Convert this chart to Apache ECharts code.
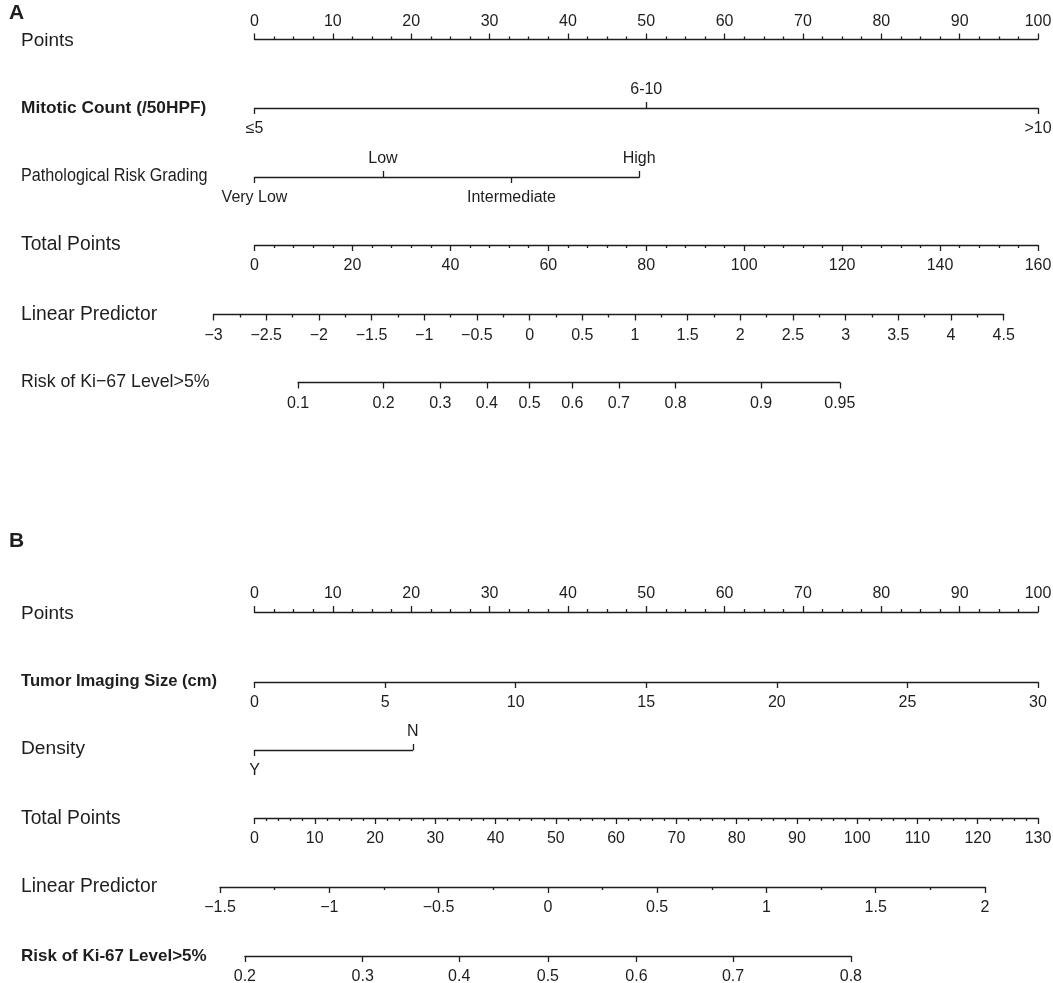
<!DOCTYPE html>
<html lang="en">
<head>
<meta charset="UTF-8">
<title>Nomogram</title>
<script src="https://cdn.jsdelivr.net/npm/echarts@6/dist/echarts.min.js"></script>
<style>
    html, body { margin: 0; padding: 0; background: #fff; }
    #chart { width: 1053px; height: 983px; }
</style>
</head>
<body>
<div id="chart"></div>
<script>
// ---- panel A data ----
var pointsRange = [0, 100];
var pointsStep = 10;
var mitoticLabels = ['≤5', '6-10', '>10'];
var mitoticPoints = [0, 50, 100];
var gradeLabels = ['Very Low', 'Low', 'Intermediate', 'High'];
var gradePoints = [0, 16.4, 32.8, 49.1];
var totalRangeA = [0, 160];
var totalStepA = 20;
var lpRangeA = [-3, 4.5];
var lpStep = 0.5;
var riskTicksA = [0.1, 0.2, 0.3, 0.4, 0.5, 0.6, 0.7, 0.8, 0.9, 0.95];

// ---- panel B data ----
var tumorRange = [0, 30];
var tumorStep = 5;
var densityLabels = ['Y', 'N'];
var densityPoints = [0, 20.2];
var totalRangeB = [0, 130];
var totalStepB = 10;
var lpRangeB = [-1.5, 2];
var riskTicksB = [0.2, 0.3, 0.4, 0.5, 0.6, 0.7, 0.8];

// ---- look ----
var INK = '#1e1e1e';
var LW = 1.3;
var FONT = '"Liberation Sans", Arial, Helvetica, sans-serif';
var X0 = 254.5, X1 = 1038;          // pixel span of 0..100 points

var option = {
    animation: false,
    backgroundColor: '#fff',
    grid: [], xAxis: [], yAxis: [], series: [], graphic: []
};

function logit(p) { return Math.log(p / (1 - p)); }
function minus(v) { return String(v).replace('-', '\u2212'); }
function ptX(p) { return X0 + (p - pointsRange[0]) / (pointsRange[1] - pointsRange[0]) * (X1 - X0); }

function addGrid(left, right, y) {
    var i = option.grid.length;
    option.grid.push({ left: left, width: right - left, top: y, height: 0, outerBoundsMode: 'none' });
    option.yAxis.push({ gridIndex: i, type: 'value', show: false, min: 0, max: 1 });
    return i;
}

function axis(i, pos, min, max) {
    return {
        gridIndex: i, type: 'value', position: pos, min: min, max: max,
        splitLine: { show: false },
        axisLine: { show: true, onZero: false, lineStyle: { color: INK, width: LW } },
        axisTick: { show: true, length: 6, lineStyle: { color: INK, width: LW } },
        axisLabel: {
            show: true, margin: pos === 'top' ? 10 : 13, color: INK, fontSize: 16, fontFamily: FONT, lineHeight: 16,
            showMinLabel: true, showMaxLabel: true, hideOverlap: false,
            alignMinLabel: 'center', alignMaxLabel: 'center'
        }
    };
}

// evenly spaced scale with labels every `step` and optional minor ticks
function regularScale(left, right, y, range, step, minorSplit, pos, fmt) {
    var i = addGrid(left, right, y);
    var ax = axis(i, pos, range[0], range[1]);
    ax.interval = step;
    if (minorSplit) {
        ax.minorTick = { show: true, splitNumber: minorSplit, length: 3, lineStyle: { color: INK, width: LW } };
    }
    if (fmt) ax.axisLabel.formatter = fmt;
    option.xAxis.push(ax);
}

// named positions; labels alternate below / above the line unless allBelow
function pickedScale(left, right, y, values, labels, allBelow) {
    var i = addGrid(left, right, y);
    var lo = Math.min.apply(null, values), hi = Math.max.apply(null, values);
    var below = [], above = [];
    values.forEach(function (v, k) { (allBelow || k % 2 === 0 ? below : above).push(v); });
    function fmt(v) {
        var best = 0;
        values.forEach(function (u, k) { if (Math.abs(u - v) < Math.abs(values[best] - v)) best = k; });
        return labels[best];
    }
    var b = axis(i, 'bottom', lo, hi);
    b.axisTick.customValues = below;
    b.axisLabel.customValues = below;
    b.axisLabel.formatter = fmt;
    option.xAxis.push(b);
    if (above.length) {
        var t = axis(i, 'top', lo, hi);
        t.axisLine.show = false;
        t.axisTick.customValues = above;
        t.axisLabel.customValues = above;
        t.axisLabel.formatter = fmt;
        option.xAxis.push(t);
    }
}

// probability scale placed under a linear predictor axis
function riskScale(lpLeft, lpRight, lpRange, y, ticks) {
    var vals = ticks.map(logit);
    var k = (lpRight - lpLeft) / (lpRange[1] - lpRange[0]);
    var left = lpLeft + (vals[0] - lpRange[0]) * k;
    var right = lpLeft + (vals[vals.length - 1] - lpRange[0]) * k;
    pickedScale(left, right, y, vals, ticks.map(String), true);
}

function rowLabel(text, y, size, weight, squeeze) {
    option.graphic.push({
        type: 'text', x: 21, y: y + 1, scaleX: squeeze || 1,
        style: { text: text, fill: INK, verticalAlign: 'middle', font: (weight || 'normal') + ' ' + size + 'px ' + FONT }
    });
}

// ================= Panel A =================
option.graphic.push({ type: 'text', x: 9, y: 13.5, style: { text: 'A', fill: INK, verticalAlign: 'middle', font: 'bold 21px ' + FONT } });
var LPA = [213.5, 1003.7];

rowLabel('Points', 40, 19);
regularScale(X0, X1, 39.5, pointsRange, pointsStep, 4, 'top');

rowLabel('Mitotic Count (/50HPF)', 107.5, 17.3, 'bold');
pickedScale(ptX(mitoticPoints[0]), ptX(mitoticPoints[mitoticPoints.length - 1]), 108, mitoticPoints, mitoticLabels);

rowLabel('Pathological Risk Grading', 175, 18, 'normal', 0.9);
pickedScale(ptX(gradePoints[0]), ptX(gradePoints[gradePoints.length - 1]), 177, gradePoints, gradeLabels);

rowLabel('Total Points', 244, 19.3);
regularScale(X0, X1, 245, totalRangeA, totalStepA, 5, 'bottom');

rowLabel('Linear Predictor', 314, 19.3);
regularScale(LPA[0], LPA[1], 314.5, lpRangeA, lpStep, 2, 'bottom', minus);

rowLabel('Risk of Ki\u221267 Level>5%', 381, 18.5, 'normal', 0.96);
riskScale(LPA[0], LPA[1], lpRangeA, 382.5, riskTicksA);

// ================= Panel B =================
option.graphic.push({ type: 'text', x: 9, y: 541, style: { text: 'B', fill: INK, verticalAlign: 'middle', font: 'bold 21px ' + FONT } });
var LPB = [220, 985];

rowLabel('Points', 612.5, 19);
regularScale(X0, X1, 612, pointsRange, pointsStep, 4, 'top');

rowLabel('Tumor Imaging Size (cm)', 680.5, 16.6, 'bold');
regularScale(X0, X1, 682, tumorRange, tumorStep, 0, 'bottom');

rowLabel('Density', 747.5, 19.2);
pickedScale(ptX(densityPoints[0]), ptX(densityPoints[densityPoints.length - 1]), 750, densityPoints, densityLabels);

rowLabel('Total Points', 818, 19.3);
regularScale(X0, X1, 818, totalRangeB, totalStepB, 5, 'bottom');

rowLabel('Linear Predictor', 886, 19.3);
regularScale(LPB[0], LPB[1], 887, lpRangeB, lpStep, 2, 'bottom', minus);

rowLabel('Risk of Ki-67 Level>5%', 955, 17, 'bold');
riskScale(LPB[0], LPB[1], lpRangeB, 956, riskTicksB);

var chart = echarts.init(document.getElementById('chart'));
chart.setOption(option);
</script>
</body>
</html>
